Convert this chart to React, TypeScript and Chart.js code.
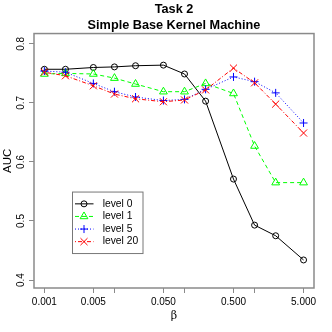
import React, { useEffect, useRef } from "react";
import { Chart, registerables } from "chart.js";
import { drawPoint } from "chart.js/helpers";

Chart.register(...registerables);

const betas = [0.001, 0.002, 0.005, 0.01, 0.02, 0.05, 0.1, 0.2, 0.5, 1, 2, 5];
const level0 = [0.757, 0.757, 0.76, 0.761, 0.763, 0.764, 0.749, 0.703, 0.571, 0.493, 0.475, 0.434];
const level1 = [0.749, 0.75, 0.749, 0.742, 0.732, 0.719, 0.719, 0.733, 0.716, 0.627, 0.565, 0.565];
const level5 = [0.754, 0.752, 0.733, 0.719, 0.71, 0.704, 0.706, 0.723, 0.744, 0.736, 0.717, 0.666];
const level20 = [0.752, 0.746, 0.729, 0.715, 0.707, 0.702, 0.705, 0.722, 0.759, 0.734, 0.698, 0.649];

const seriesNames = ["level 0", "level 1", "level 5", "level 20"];
const seriesValues = [level0, level1, level5, level20];
const seriesColors = ["#000000", "#00ff00", "#0000ff", "#ff0000"];
const seriesDash: number[][] = [[], [4, 3], [1, 2], [1, 2, 4, 2]];
const seriesPoint = ["circle", "triangle", "cross", "crossRot"];
const seriesRadius = [3, 4.5, 4, 5];

const xTickValues = [0.001, 0.005, 0.01, 0.05, 0.1, 0.5, 1, 5];
const xTickLabels = ["0.001", "0.005", "", "0.050", "", "0.500", "", "5.000"];
const yTickValues = [0.4, 0.5, 0.6, 0.7, 0.8];
const yTickLabels = ["0.4", "0.5", "0.6", "0.7", "0.8"];

const titleLines = ["Task 2", "Simple Base Kernel Machine"];
const xTitle = "β";
const yTitle = "AUC";

const SANS = "'Liberation Sans', Arial, Helvetica, sans-serif";
const AXIS_GRAY = "#8a8a8a";

const framePlugin = {
  id: "rFrameLegend",
  afterDraw(chart: any) {
    const ctx = chart.ctx as CanvasRenderingContext2D;
    const a = chart.chartArea;
    ctx.save();
    ctx.strokeStyle = AXIS_GRAY;
    ctx.lineWidth = 1.5;
    ctx.setLineDash([]);
    ctx.strokeRect(a.left, a.top, a.right - a.left, a.bottom - a.top);

    // legend box (R style), placed relative to plot area
    const bx = a.left + 38.5;
    const by = a.top + 158.5;
    const bw = 70.5;
    const bh = 61.5;
    ctx.lineWidth = 1;
    ctx.strokeStyle = "#777777";
    ctx.strokeRect(bx, by, bw, bh);
    chart.data.datasets.forEach((ds: any, i: number) => {
      const y = by + 11.8 + i * 12.6;
      ctx.strokeStyle = ds.borderColor;
      ctx.lineWidth = 1;
      ctx.setLineDash(ds.borderDash || []);
      ctx.beginPath();
      ctx.moveTo(bx + 2.5, y);
      ctx.lineTo(bx + 21, y);
      ctx.stroke();
      ctx.setLineDash([]);
      ctx.fillStyle = "rgba(0,0,0,0)";
      ctx.strokeStyle = ds.borderColor;
      drawPoint(
        ctx,
        { pointStyle: ds.pointStyle, radius: ds.pointRadius, borderWidth: 1, rotation: 0 } as any,
        bx + 11.5,
        y
      );
      ctx.fillStyle = "#000";
      ctx.font = `10.3px ${SANS}`;
      ctx.textBaseline = "middle";
      ctx.textAlign = "left";
      ctx.fillText(ds.label, bx + 30.2, y);
    });
    ctx.restore();
  },
};

export default function App() {
  const canvasRef = useRef<HTMLCanvasElement | null>(null);

  useEffect(() => {
    if (!canvasRef.current) return;
    const datasets = seriesNames.map((name, k) => ({
      label: name,
      data: betas.map((b, i) => ({ x: b, y: seriesValues[k][i] })),
      borderColor: seriesColors[k],
      backgroundColor: "rgba(0,0,0,0)",
      borderWidth: 1,
      borderDash: seriesDash[k],
      pointStyle: seriesPoint[k],
      pointRadius: seriesRadius[k],
      pointBorderWidth: 1,
      pointBorderColor: seriesColors[k],
      pointBackgroundColor: "rgba(0,0,0,0)",
      tension: 0,
      fill: false,
      order: 3 - k,
    }));

    const chart = new Chart(canvasRef.current, {
      type: "line",
      data: { datasets },
      plugins: [framePlugin],
      options: {
        animation: false,
        responsive: false,
        devicePixelRatio: 1,
        layout: { padding: { left: 0, right: 18, top: 0, bottom: 0 } },
        plugins: {
          legend: { display: false },
          tooltip: { enabled: false },
          title: {
            display: true,
            text: titleLines,
            color: "#000",
            fullSize: false,
            font: { family: SANS, size: 12.7, weight: "bold", lineHeight: 1.25 },
            padding: { top: 1.8, bottom: 0 },
          },
        },
        scales: {
          x: {
            type: "logarithmic",
            position: "bottom",
            min: Math.pow(10, -3.148),
            max: Math.pow(10, 0.848),
            afterBuildTicks: (s: any) => {
              s.ticks = xTickValues.map((v) => ({ value: v }));
            },
            afterFit: (s: any) => {
              s.height = 44;
            },
            ticks: {
              autoSkip: false,
              minRotation: 0,
              maxRotation: 0,
              padding: 3,
              color: "#000",
              font: { family: SANS, size: 10 },
              callback: (_v: any, i: number) => xTickLabels[i],
            },
            grid: { drawOnChartArea: false, drawTicks: true, tickLength: 5, color: AXIS_GRAY, lineWidth: 1 },
            border: { display: false },
            title: {
              display: true,
              text: xTitle,
              color: "#000",
              font: { family: "'DejaVu Serif', 'Liberation Serif', serif", size: 11 },
              padding: { top: 0, bottom: 8.8 },
            },
          },
          y: {
            type: "linear",
            position: "left",
            min: 0.3865,
            max: 0.8175,
            afterBuildTicks: (s: any) => {
              s.ticks = yTickValues.map((v) => ({ value: v }));
            },
            afterFit: (s: any) => {
              s.width = 34;
            },
            ticks: {
              autoSkip: false,
              minRotation: 90,
              maxRotation: 90,
              crossAlign: "center",
              padding: 1,
              color: "#000",
              font: { family: SANS, size: 10 },
              callback: (_v: any, i: number) => yTickLabels[i],
            },
            grid: { drawOnChartArea: false, drawTicks: true, tickLength: 5, color: AXIS_GRAY, lineWidth: 1 },
            border: { display: false },
            title: {
              display: true,
              text: yTitle,
              color: "#000",
              font: { family: SANS, size: 11.5 },
              padding: { top: 1, bottom: 0 },
            },
          },
        },
      } as any,
    });
    return () => chart.destroy();
  }, []);

  return (
    <div style={{ position: "fixed", left: 0, top: 0, width: 332, height: 332, background: "#fff" }}>
      <canvas ref={canvasRef} width={332} height={332} style={{ display: "block" }} />
    </div>
  );
}
